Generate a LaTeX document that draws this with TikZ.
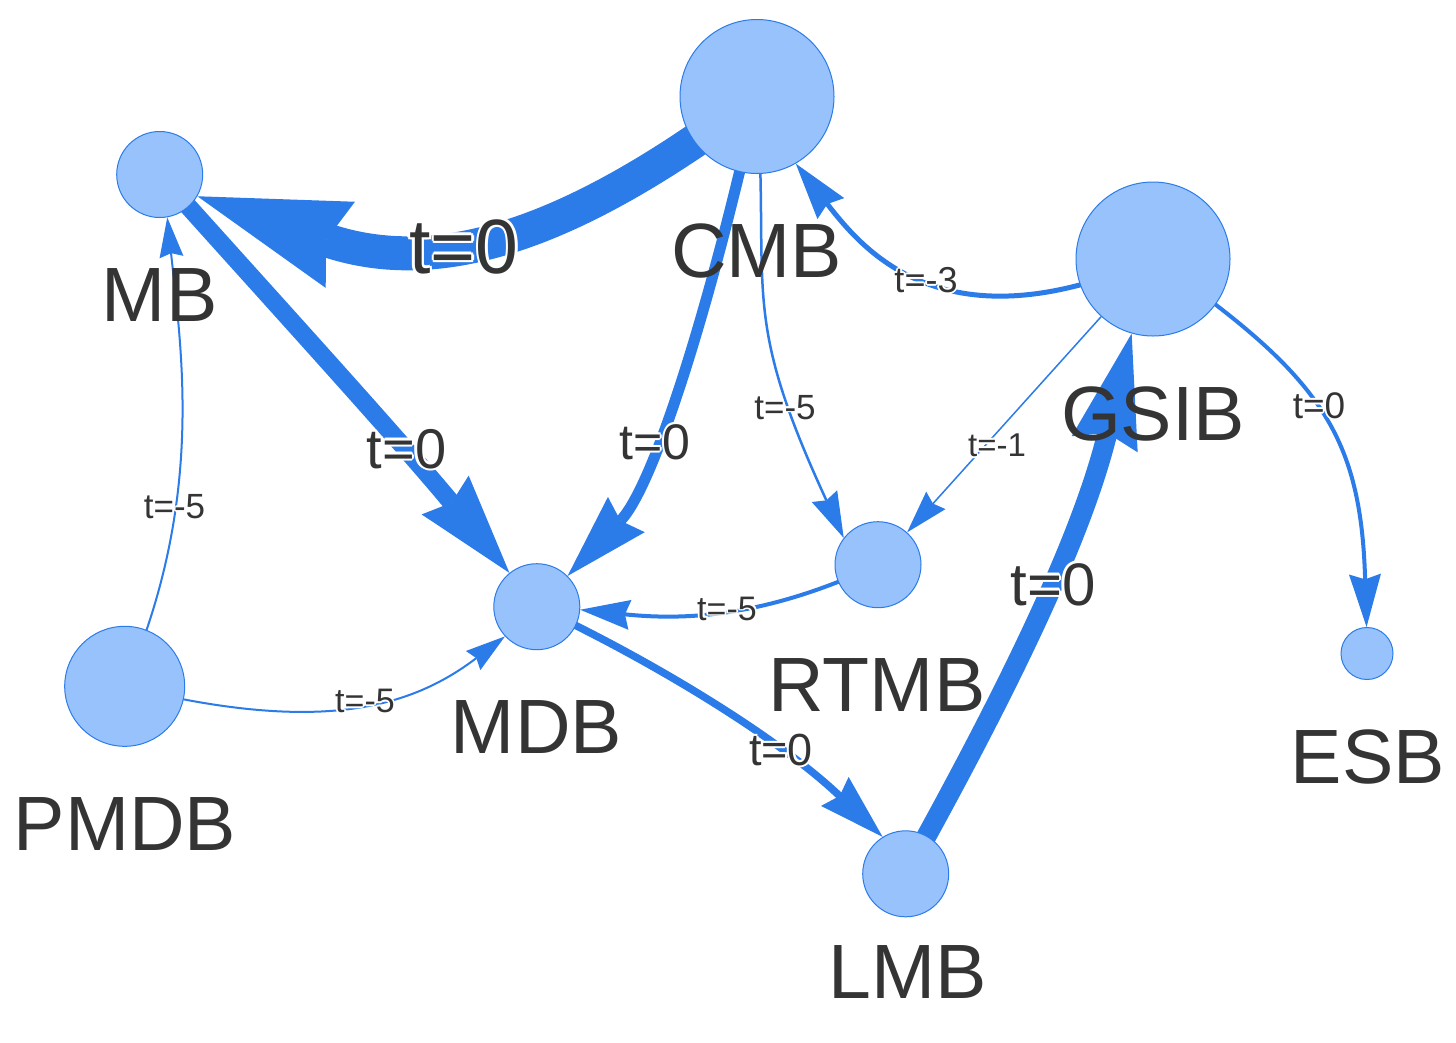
\documentclass[tikz,border=0pt]{standalone}
\usepackage{fontspec}
\setmainfont{Liberation Sans}
\usetikzlibrary{arrows.meta,backgrounds}
\definecolor{nfill}{HTML}{97C2FC}
\definecolor{ncol}{HTML}{2B7CE9}
\definecolor{ecol}{HTML}{2B7CE9}
\definecolor{tcol}{HTML}{343434}
\newlength\hw
\newcommand\halo[2][1.8pt]{\setlength\hw{#1}%
  \rlap{\textcolor{white}{\kern\hw#2}}%
  \rlap{\textcolor{white}{\kern-\hw#2}}%
  \rlap{\textcolor{white}{\raisebox{\hw}{#2}}}%
  \rlap{\textcolor{white}{\raisebox{-\hw}{#2}}}%
  \rlap{\textcolor{white}{\kern0.7\hw\raisebox{0.7\hw}{#2}}}%
  \rlap{\textcolor{white}{\kern-0.7\hw\raisebox{0.7\hw}{#2}}}%
  \rlap{\textcolor{white}{\kern0.7\hw\raisebox{-0.7\hw}{#2}}}%
  \rlap{\textcolor{white}{\kern-0.7\hw\raisebox{-0.7\hw}{#2}}}%
  #2}
\begin{document}
\begin{tikzpicture}[x=1pt,y=-1pt,
  bank/.style={circle, draw=ncol, fill=nfill, line width=1pt, inner sep=0pt, minimum size=#1pt},
  nlabel/.style={anchor=base, text=tcol, inner sep=0pt, font=\fontsize{77}{77}\selectfont},
  elabel/.style={anchor=base, text=tcol, inner sep=0pt, font=\fontsize{#1}{#1}\selectfont},
  edg/.style={draw=ecol, line width=#1pt},
  tipa/.style n args={3}{-{Stealth[length=#1pt,width=#2pt,inset=#3pt,line width=0pt]}}]
\useasboundingbox (0,0) rectangle (1456,1042);

% nodes
\node[bank=154] (cmb)  at (757,96.5) {};
\node[bank=154] (gsib) at (1153,259) {};
\node[bank=86]  (mb)   at (159.7,174.5) {};
\node[bank=86]  (mdb)  at (536.8,606.7) {};
\node[bank=86]  (rtmb) at (878,564.7) {};
\node[bank=86]  (lmb)  at (905.7,873.8) {};
\node[bank=120] (pmdb) at (124.7,686.3) {};
\node[bank=52]  (esb)  at (1367,653.5) {};

% node labels
\node[nlabel] (mbL)   at (159.7,321.7) {MB};
\node[nlabel] (cmbL)  at (756.7,277.3) {CMB};
\node[nlabel] (gsibL) at (1153,440) {GSIB};
\node[nlabel] (mdbL)  at (536.5,753) {MDB};
\node[nlabel] (rtmbL) at (877,711.7) {RTMB};
\node[nlabel] (pmdbL) at (125,850) {PMDB};
\node[nlabel] (lmbL)  at (908,998.3) {LMB};
\node[nlabel] (esbL)  at (1368,783) {ESB};

\begin{pgfonlayer}{background}
\fill[white] (0,0) rectangle (1456,1042);
% edges
\draw[edg=34, tipa={151}{91}{15}] (cmb.center) .. controls (597,216.5) and (454.1,283.5) .. (mb.-30.8);
\draw[edg=18, tipa={101}{61}{10}] (mb.center) .. controls (239.5,264.1) and (394.8,434) .. (mdb.129.5);
\draw[edg=11, tipa={85}{51}{8.5}] (cmb.center) .. controls (713.8,291.7) and (655.8,483.8) .. (mdb.45.9);
\draw[edg=2.5, tipa={46}{28}{4.6}] (cmb.center) .. controls (770,296) and (739,310.9) .. (rtmb.142.3);
\draw[edg=5, tipa={57}{34}{5.7}] (gsib.center) .. controls (945,350) and (864,251) .. (cmb.-60.7);
\draw[edg=1.5, tipa={43}{26}{4.3}] (gsib) -- (rtmb);
\draw[edg=4, tipa={53}{32}{5.3}] (gsib.center) .. controls (1317,373.7) and (1360.7,430.3) .. (esb.91);
\draw[edg=20, tipa={114}{68}{11.4}] (lmb.center) .. controls (1002.9,699) and (1080.8,542) .. (gsib.254.9);
\draw[edg=4, tipa={50}{30}{5}] (rtmb.center) .. controls (769.3,615.5) and (689.6,621) .. (mdb.-4.4);
\draw[edg=2, tipa={40}{24}{4}] (pmdb.center) .. controls (204.7,502.9) and (181.9,355.4) .. (mb.-80.9);
\draw[edg=2, tipa={40}{24}{4}] (pmdb.center) .. controls (318.7,734.7) and (410,708.4) .. (mdb.223.9);
\draw[edg=7.5, tipa={66}{40}{6.6}] (mdb.center) .. controls (645.4,657.1) and (776.2,735.6) .. (lmb.122.9);
% edge labels
\node[elabel=77] (l1)  at (464,273.3) {\halo[2.5pt]{t=0}};
\node[elabel=56] (l2)  at (406.5,468) {\halo[2.2pt]{t=0}};
\node[elabel=50] (l3)  at (655,459) {\halo[2pt]{t=0}};
\node[elabel=35] (l4)  at (785,419) {\halo{t=-5}};
\node[elabel=36] (l5)  at (926,292.7) {\halo{t=-3}};
\node[elabel=33] (l6)  at (997,456.7) {\halo{t=-1}};
\node[elabel=37] (l7)  at (1319,418.3) {\halo{t=0}};
\node[elabel=60] (l8)  at (1053,605) {\halo[2.2pt]{t=0}};
\node[elabel=34] (l9)  at (727,620) {\halo{t=-5}};
\node[elabel=35] (l10) at (174.5,518.3) {\halo{t=-5}};
\node[elabel=34] (l11) at (365,712.3) {\halo{t=-5}};
\node[elabel=45] (l12) at (781,765) {\halo[2pt]{t=0}};
\end{pgfonlayer}
\end{tikzpicture}
\end{document}
